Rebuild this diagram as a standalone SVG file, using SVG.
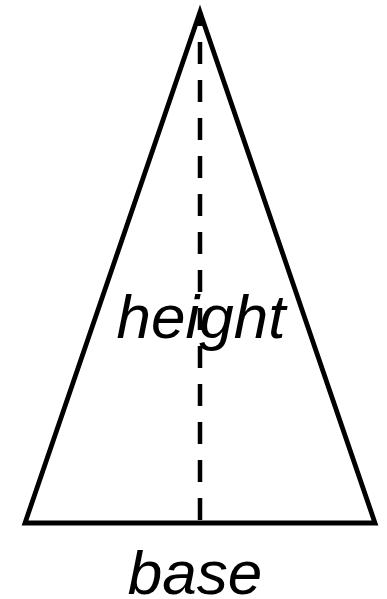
<svg xmlns="http://www.w3.org/2000/svg" width="387" height="599" viewBox="0 0 387 599">
<style>
.shape{fill:none;stroke:#000;stroke-width:4.8;stroke-linejoin:miter;stroke-miterlimit:10}
.dash{fill:none;stroke:#000;stroke-width:4.5;stroke-dasharray:22 16}
.lbl{font-family:"Liberation Sans",Arial,sans-serif;font-style:italic;font-size:62px;fill:#000;text-anchor:middle}
</style>
<rect width="387" height="599" fill="#fff"/>
<g id="triangle">
<polygon class="shape" points="200,12 375,523 25,523"/>
</g>
<g id="connectors">
<line class="dash" x1="200" y1="520" x2="200" y2="12"/>
</g>
<g id="height-label">
<text class="lbl" x="201" y="338">height</text>
</g>
<g id="base-label">
<text class="lbl" x="195" y="594">base</text>
</g>
</svg>
